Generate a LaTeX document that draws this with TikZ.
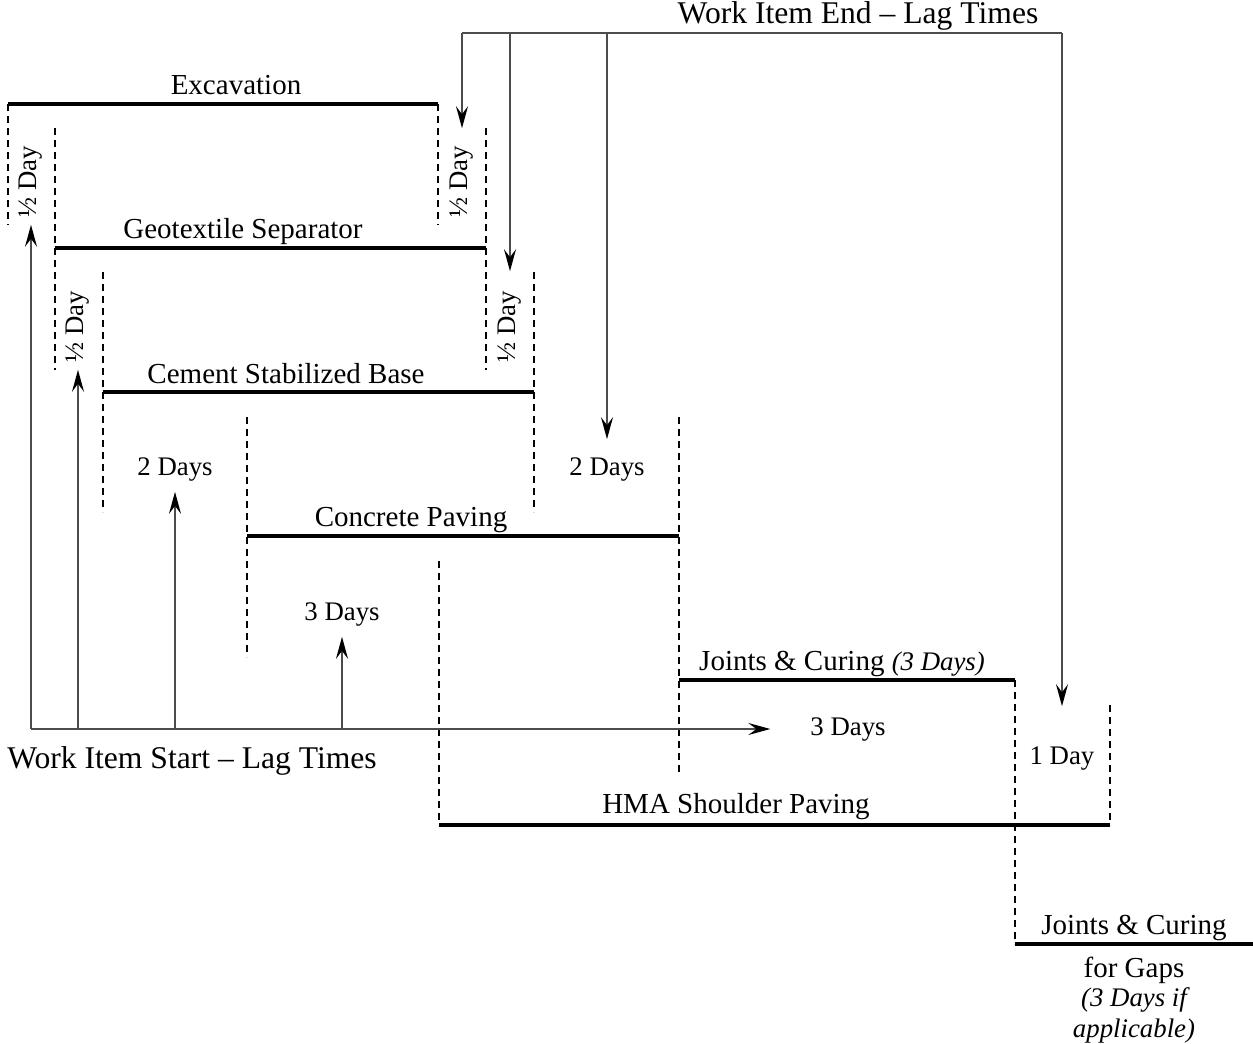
\documentclass[tikz,border=0pt]{standalone}
\usepackage{fontspec}
\setmainfont{Liberation Serif}
\usetikzlibrary{arrows.meta}

\begin{document}
\begin{tikzpicture}[x=0.5pt, y=-0.5pt]
\tikzstyle{bar} = [line width=1.6pt]
\tikzstyle{lead} = [dash pattern=on 3.5pt off 2.5pt, line width=0.7pt]
\tikzstyle{lagline} = [draw=black!70, line width=0.9pt]
\tikzstyle{lag} = [lagline, -{Stealth[length=11pt, width=6pt, inset=4pt, black]}]
\tikzstyle{task} = [font=\fontsize{14.5}{17}\selectfont]
\tikzstyle{dur} = [font=\fontsize{13.4}{16}\selectfont]
\tikzstyle{half} = [dur, rotate=90]
\tikzstyle{head} = [font=\fontsize{15.8}{19}\selectfont]
\useasboundingbox (0,0) rectangle (1253,1044);
% bar ends
\coordinate (exS) at (8,104);     \coordinate (exE) at (438,104);
\coordinate (geS) at (55,248);    \coordinate (geE) at (486,248);
\coordinate (csS) at (103,392);   \coordinate (csE) at (534,392);
\coordinate (cpS) at (247,536);   \coordinate (cpE) at (679,536);
\coordinate (jcS) at (679,680);   \coordinate (jcE) at (1015,680);
\coordinate (hmS) at (439,825);   \coordinate (hmE) at (1110,825);
\coordinate (jgS) at (1015,944);  \coordinate (jgE) at (1253,944);
% task names
\node[task] (ex) at (236,85) {Excavation};
\node[task] (ge) at (243,232) {Geotextile Separator};
\node[task] (cs) at (286,374) {Cement Stabilized Base};
\node[task] (cp) at (411,520) {Concrete Paving};
\node[task] (jc) at (842,664) {Joints \& Curing {\fontsize{13.4}{16}\selectfont\itshape (3 Days)}};
\node[task] (hm) at (736,807) {HMA Shoulder Paving};
\node[task] (jg) at (1134,928) {Joints \& Curing};
\node[task] (jg2) at (1134,970) {for Gaps};
\node[dur, font=\fontsize{13.4}{16}\selectfont\itshape] (jg3) at (1134,1000) {(3 Days if};
\node[dur, font=\fontsize{13.4}{16}\selectfont\itshape] (jg4) at (1134,1031) {applicable)};
\draw[bar] (exS) -- (exE) (geS) -- (geE) (csS) -- (csE) (cpS) -- (cpE)
	(jcS) -- (jcE) (hmS) -- (hmE) (jgS) -- (jgE);
% dashed leads
\draw[lead] (exS) -- (8,225) (exE) -- (438,225)
	(55,128) -- (55,370) (486,128) -- (486,370)
	(103,272) -- (103,512) (534,272) -- (534,512)
	(247,417) -- (247,657) (679,417) -- (679,775)
	(439,561) -- (hmS) (jcE) -- (jgS) (1110,705) -- (hmE);
% lag times
\node[half] (h1) at (31,182) {½ Day};
\node[half] (h2) at (462,182) {½ Day};
\node[half] (h3) at (78,327) {½ Day};
\node[half] (h4) at (510,327) {½ Day};
\node[dur] (d1) at (175,470) {2 Days};
\node[dur] (d2) at (607,470) {2 Days};
\node[dur] (d3) at (342,615) {3 Days};
\node[dur] (d4) at (848,730) {3 Days};
\node[dur] (d5) at (1062,759) {1 Day};
\node[head] (start) at (192,761) {Work Item Start -- Lag Times};
\node[head] (end) at (858,16) {Work Item End -- Lag Times};
\coordinate (st1) at (31,729);  \coordinate (st2) at (78,729);
\coordinate (st3) at (175,729); \coordinate (st4) at (342,729);
\coordinate (en1) at (462,33);  \coordinate (en2) at (510,33);
\coordinate (en3) at (607,33);  \coordinate (en4) at (1062,33);
\draw[lag] (st1) -- (h1);
\draw[lag] (st2) -- (h3);
\draw[lag, shorten >=1.5pt] (st3) -- (d1);
\draw[lag, shorten >=1.5pt] (st4) -- (d3);
\draw[lag, shorten >=16.5pt] (st1) -- (st1 -| d4.west);
\draw[lagline] (en1) -- (en4);
\draw[lag, shorten >=5.5pt] (en1) -- (h2);
\draw[lag, shorten >=6.5pt] (en2) -- (h4);
\draw[lag, shorten >=6pt] (en3) -- (d2);
\draw[lag, shorten >=17pt] (en4) -- (d5);
\end{tikzpicture}
\end{document}
